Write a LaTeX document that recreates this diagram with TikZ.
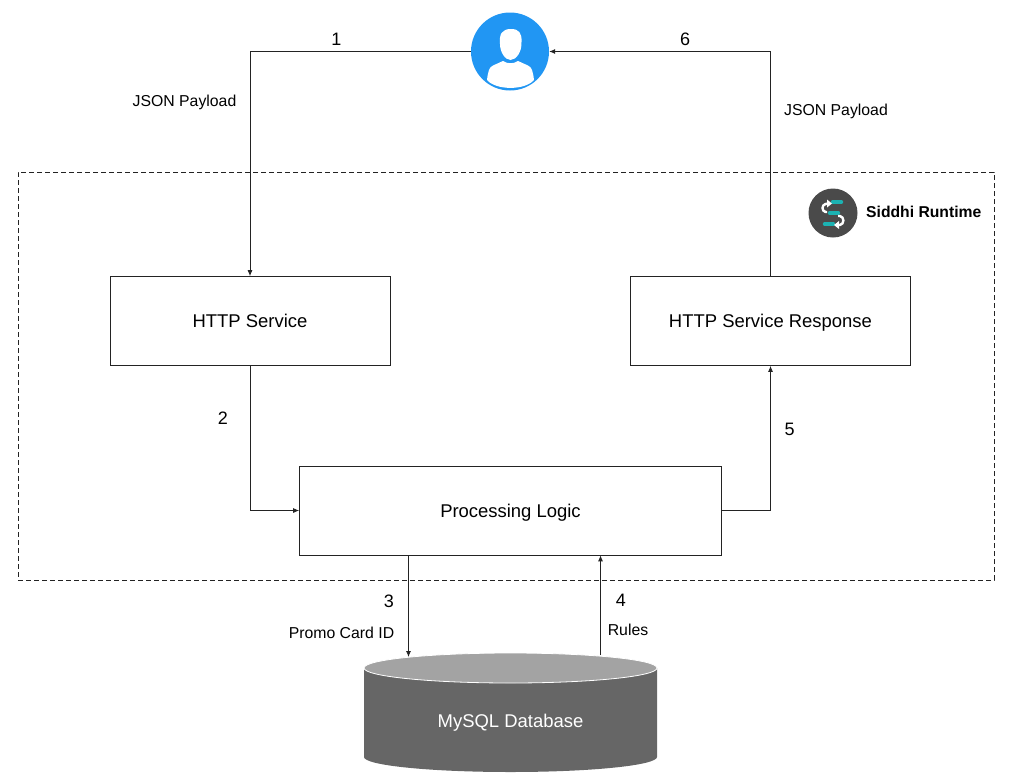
\documentclass[tikz,border=0pt]{standalone}
\usepackage{fontspec}
\setmainfont{Liberation Sans}
\usetikzlibrary{arrows.meta,calc}
\definecolor{userblue}{RGB}{33,150,243}
\definecolor{dbside}{RGB}{102,102,102}
\definecolor{dbtop}{RGB}{163,163,163}
\definecolor{logodark}{RGB}{74,74,74}
\definecolor{logoteal}{RGB}{28,178,178}
\definecolor{ink}{RGB}{35,35,35}
\tikzset{>={Latex[length=6pt,width=5pt]}}
\tikzset{box/.style={draw=ink,line width=0.7pt,inner sep=0pt,text height=13pt,text depth=0pt,font=\fontsize{18.45}{20}\selectfont}}
\tikzset{link/.style={->,draw=ink,line width=0.8pt}}
\tikzset{lbl/.style={font=\fontsize{15.8}{18}\selectfont,inner sep=0pt}}
\tikzset{num/.style={font=\fontsize{18}{20}\selectfont,inner sep=0pt}}

\begin{document}
\begin{tikzpicture}[x=1pt,y=-1pt]
    \useasboundingbox (0,0) rectangle (1021,772);

    % Runtime frame
    \node[draw=ink,dash pattern=on 5pt off 3pt,line width=0.6pt,minimum width=976pt,minimum height=408pt,inner sep=0pt] (frame) at (506,376) {};

    % Siddhi logo
    \node[circle,fill=logodark,minimum size=49pt,inner sep=0pt] (logo) at (833,213) {};
    \draw[logoteal,line width=3.4pt,line cap=round] (832.5,202) -- (841.5,202);
    \draw[logoteal,line width=3.4pt,line cap=round] (829.5,213) -- (838.5,213);
    \draw[logoteal,line width=3.4pt,line cap=round] (824.5,224) -- (833.5,224);
    \draw[white,line width=2.4pt] (828,203.5) -- (825.5,204) .. controls (821.5,205) and (821.5,211) .. (825.5,212) -- (827,212);
    \fill[white] (827,199.5) -- (832,203.5) -- (827,207.5) -- cycle;
    \draw[white,line width=2.4pt] (838,216) -- (840,216) .. controls (844.5,217) and (844.5,224) .. (840,225) -- (838,225);
    \fill[white] (839,221) -- (834,225) -- (839,229) -- cycle;
    \node[font=\fontsize{15.7}{18}\selectfont\bfseries,inner sep=0pt,anchor=west] (runtime) at (866,212) {Siddhi Runtime};

    % User
    \node[circle,fill=userblue,minimum size=78pt,inner sep=0pt] (user) at (510,51.5) {};
    \fill[white] (511,29) .. controls (519,29) and (522,33) .. (521.5,42) .. controls (522,52) and (516,60) .. (510.5,60) .. controls (505,60) and (500,52) .. (500,44) .. controls (499,34) and (502,29) .. (511,29) -- cycle;
    \fill[white] (487,80) .. controls (488,72) and (489,67) .. (493,65.5) -- (503,61) .. controls (507,64) and (514,64) .. (518,61) -- (528,65.5) .. controls (532,67) and (533,72) .. (534,80) .. controls (525,90.5) and (496,90.5) .. (487,80) -- cycle;

    % Boxes
    \node[box,minimum width=280pt,minimum height=89pt] (http) at (250,321) {HTTP Service};
    \node[box,minimum width=280pt,minimum height=89pt] (response) at (770.5,321) {HTTP Service Response};
    \node[box,minimum width=422pt,minimum height=89pt] (logic) at (510.5,510.5) {Processing Logic};

    % Database
    \fill[dbside] (364,668) -- (364,757) arc[start angle=180,end angle=360,x radius=146.5,y radius=-15] -- (657,668) -- cycle;
    \draw[white,line width=0.8pt,fill=dbtop] (510.5,668) ellipse[x radius=146.5,y radius=15];
    \node[inner sep=0pt,text=white,text height=13pt,text depth=0pt,font=\fontsize{18.45}{20}\selectfont] (db) at (510.5,720.5) {MySQL Database};
    \coordinate (dbin) at (408.5,657);
    \coordinate (dbout) at (600.5,655);

    % Connectors
    \draw[link] (user.west) -| (http.north);
    \draw[link] (http.south) |- (logic.west);
    \draw[link] (logic.south -| dbin) -- (dbin);
    \draw[link] (dbout) -- (logic.south -| dbout);
    \draw[link] (logic.east) -| (response.south);
    \draw[link] (response.north) |- (user.east);

    % Labels
    \node[num] (n1) at (336.5,39) {1};
    \node[num] (n2) at (223,418.5) {2};
    \node[num] (n3) at (389,601) {3};
    \node[num] (n4) at (621,600) {4};
    \node[num] (n5) at (789.5,429) {5};
    \node[num] (n6) at (685,39) {6};
    \node[lbl] (payin) at (184.5,102) {JSON Payload};
    \node[lbl] (payout) at (836,111) {JSON Payload};
    \node[lbl] (card) at (341.5,633) {Promo Card ID};
    \node[lbl] (rules) at (628,629.5) {Rules};
\end{tikzpicture}
\end{document}
